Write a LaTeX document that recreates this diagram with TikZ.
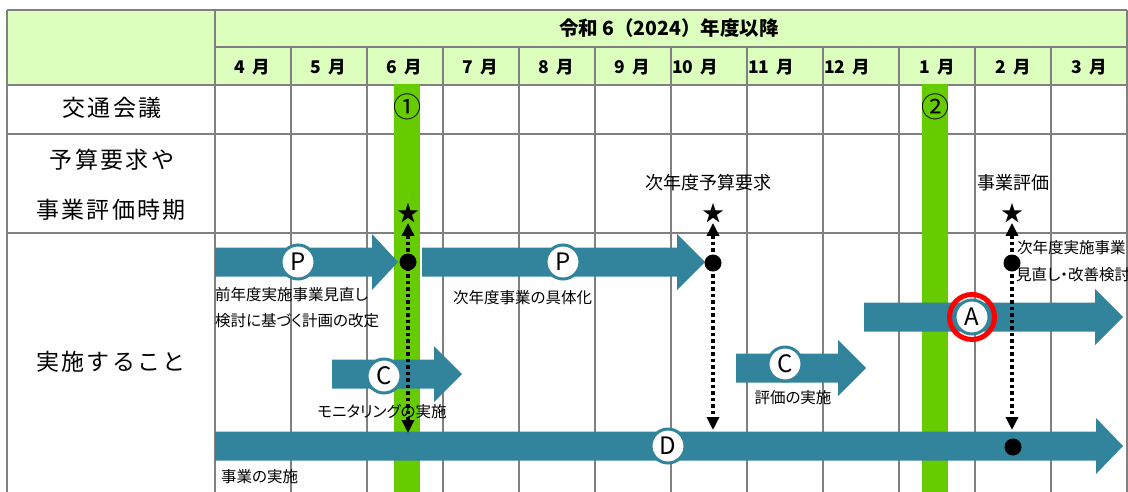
\documentclass[tikz,border=0pt]{standalone}
\usepackage{fontspec}
\setmainfont{Noto Sans CJK JP}
\newfontfamily\lblfont{Noto Sans CJK JP}[RawFeature=+palt]
\usepackage{xcolor}
\usepackage{tikz}
\usetikzlibrary{arrows.meta, positioning, calc}

\definecolor{hdrgreen}{RGB}{220,255,190}
\definecolor{gridgray}{RGB}{128,128,128}
\definecolor{barGreen}{RGB}{102,204,0}
\definecolor{pdcaTeal}{RGB}{49,132,155}

% block arrow: left x, head start x, tip x, centre y
\newcommand{\pdcaarrow}[4]{%
  \fill[pdcaTeal] (#1,#4-14.5) -- (#2,#4-14.5) -- (#2,#4-28) -- (#3,#4)
    -- (#2,#4+28) -- (#2,#4+14.5) -- (#1,#4+14.5) -- cycle;}

\tikzset{
  gridline/.style={draw=gridgray, line width=1.6pt},
  titlelabel/.style={font=\fontsize{19.5}{19.5}\selectfont\bfseries},
  monthlabel/.style={font=\fontsize{17.5}{17.5}\selectfont\bfseries},
  rowlabel/.style={font=\fontsize{23}{23}\selectfont\addfontfeature{LetterSpace=10}},
  meetnum/.style={font=\fontsize{28}{28}\selectfont, inner sep=0pt},
  smalllabel/.style={font=\lblfont\fontsize{15.5}{15.5}\selectfont, inner sep=0pt},
  eventlabel/.style={font=\lblfont\fontsize{18}{18}\selectfont, inner sep=0pt},
  phase/.style={circle, fill=white, draw=pdcaTeal, line width=3pt, minimum size=34pt,
    inner sep=0pt, font=\fontsize{24}{24}\selectfont},
  milestone/.style={circle, fill=black, minimum size=17pt, inner sep=0pt},
  starmark/.style={font=\fontsize{22}{22}\selectfont, inner sep=0pt},
  dotline/.style={line width=3.5pt, dash pattern=on 3.5pt off 3pt,
    {Triangle[length=13pt,width=12pt]}-{Triangle[length=13pt,width=12pt]}}
}

\begin{document}
\begin{tikzpicture}[x=1pt, y=-1pt]
\useasboundingbox (0,0) rectangle (1128,491);
\clip (0,0) rectangle (1128,491);

% header cells
\fill[hdrgreen] (7,10) rectangle (1127,85);

% table grid
\draw[gridline] (7,10) -- (1127,10);
\draw[gridline] (215,47) -- (1127,47);
\foreach \y in {85,134,233} \draw[gridline] (7,\y) -- (1127,\y);
\foreach \x in {7,215,1127} \draw[gridline] (\x,10) -- (\x,495);
\foreach \x in {291,367,...,1051} \draw[gridline] (\x,47) -- (\x,495);

% header texts
\node[titlelabel] (yearhdr) at (669,28) {令和 6（2024）年度以降};
\foreach \m/\cx in {4/252,5/328,6/404,7/480,8/556,9/632,1/937,2/1013,3/1089}
  \node[monthlabel] (month\m) at (\cx,67) {\m\,\ 月};
\foreach \m/\lx in {10/671,11/747,12/823}
  \node[monthlabel, anchor=west, inner sep=1pt] (month\m) at (\lx,67) {\m\,\ 月};

% row titles
\node[rowlabel] (kotsu)  at (112,108) {交通会議};
\node[rowlabel] (yosan)  at (112,160) {予算要求や};
\node[rowlabel] (hyoka)  at (111,210) {事業評価時期};
\node[rowlabel] (jisshi) at (111,362) {実施すること};

% traffic meetings
\fill[barGreen] (394,84) rectangle (420,495);
\fill[barGreen] (922,84) rectangle (948,495);
\node[meetnum] (meet1) at (407,107) {①};
\node[meetnum] (meet2) at (935,107) {②};

% PDCA arrows
\pdcaarrow{215}{372}{398}{262}
\pdcaarrow{422}{677}{705}{262}
\pdcaarrow{332}{434}{462}{374}
\pdcaarrow{736}{838}{866}{368}
\pdcaarrow{864}{1095}{1123}{317}
\pdcaarrow{215}{1096}{1123}{446}

% stars and dotted links
\node[starmark] (star1) at (408,213) {★};
\node[starmark] (star2) at (713,213) {★};
\node[starmark] (star3) at (1012,213) {★};
\coordinate (low1) at (408,433);
\coordinate (low2) at (713,430);
\coordinate (low3) at (1012,430);
\draw[dotline] (star1.south) -- (low1);
\draw[dotline] (star2.south) -- (low2);
\draw[dotline] (star3.south) -- (low3);

\node[milestone] (req1) at (408,262) {};
\node[milestone] (req2) at (713,263) {};
\node[milestone] (req3) at (1012,263) {};
\node[milestone] (req4) at (1013,447) {};

% phase circles
\node[phase] (plan1)  at (298,262) {P};
\node[phase] (plan2)  at (563,262) {P};
\node[phase] (check1) at (384,376) {C};
\node[phase] (check2) at (785,364) {C};
\node[phase] (doit)   at (668,446) {D};
\node[phase] (act)    at (972,317) {A};
\node[circle, draw=red, line width=5pt, minimum size=45pt] (actring) at (act) {};

% labels
\node[eventlabel] (budgetreq) at (708,183) {次年度予算要求};
\node[eventlabel] (bizeval)   at (1013,183) {事業評価};
\node[smalllabel, anchor=west] (prevfix1) at (215,295) {前年度実施事業見直し};
\node[smalllabel, anchor=west] (prevfix2) at (215,321) {検討に基づく計画の改定};
\node[smalllabel, anchor=west] (nextplan) at (453,298) {次年度事業の具体化};
\node[smalllabel] (monitor) at (382,412) {モニタリングの実施};
\node[smalllabel] (evalrun) at (793,398) {評価の実施};
\node[smalllabel, anchor=west] (runbiz)   at (221,477) {事業の実施};
\node[smalllabel, anchor=west] (nextrev1) at (1017,248) {次年度実施事業};
\node[smalllabel, anchor=west] (nextrev2) at (1016,275) {見直し・改善検討};

\end{tikzpicture}
\end{document}
